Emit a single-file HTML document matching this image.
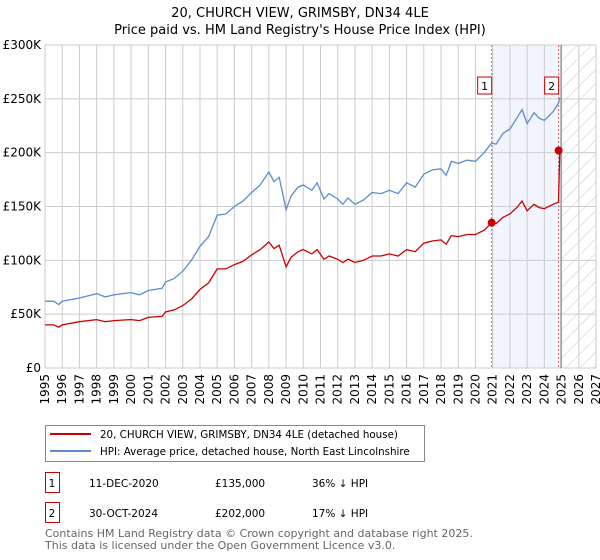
<!DOCTYPE html>
<html><head><meta charset="utf-8"><style>
body{margin:0;background:#fff;font-family:"DejaVu Sans","Liberation Sans",sans-serif;}
#wrap{position:relative;width:600px;height:560px;overflow:hidden}
</style></head><body>
<div id="wrap">
<svg id="chart" width="600" height="560" style="position:absolute;left:0;top:0"></svg>
</div>
<script>
const years=[1995,1995.5,1995.8,1996,1997,1998,1998.5,1999,2000,2000.5,2001,2001.8,2002,2002.5,2003,2003.5,2004,2004.5,2005,2005.5,2006,2006.5,2007,2007.5,2008,2008.3,2008.6,2009,2009.3,2009.7,2010,2010.5,2010.8,2011.2,2011.5,2012,2012.3,2012.6,2013,2013.5,2014,2014.5,2015,2015.5,2016,2016.5,2017,2017.5,2018,2018.3,2018.6,2019,2019.5,2020,2020.5,2020.94,2021.2,2021.6,2022,2022.4,2022.7,2023,2023.4,2023.7,2024,2024.5,2024.82,2024.9];
const hpi=[62,62,59,62,65,69,66,68,70,68,72,74,80,83,90,100,113,122,142,143,150,155,163,170,182,173,177,147,160,168,170,165,172,157,162,157,152,158,152,156,163,162,165,162,172,168,180,184,185,179,192,190,193,192,200,209,208,218,222,232,240,227,237,232,230,238,246,251];
const price=[40,40,38,40,43,45,43,44,45,44,47,48,52,54,58,64,73,79,92,92,96,99,105,110,117,111,114,94,103,108,110,106,110,101,104,101,98,101,98,100,104,104,106,104,110,108,116,118,119,115,123,122,124,124,128,135,134,140,143,149,155,146,152,149,148,152,154,202];
const yTicks=[0,50,100,150,200,250,300];
const xTicks=[1995,1996,1997,1998,1999,2000,2001,2002,2003,2004,2005,2006,2007,2008,2009,2010,2011,2012,2013,2014,2015,2016,2017,2018,2019,2020,2021,2022,2023,2024,2025,2026,2027];
const sales=[{n:"1",t:2020.94,v:135,d:"11-DEC-2020",p:"£135,000",h:"36% ↓ HPI"},{n:"2",t:2024.83,v:202,d:"30-OCT-2024",p:"£202,000",h:"17% ↓ HPI"}];

const NS="http://www.w3.org/2000/svg";
const svg=document.getElementById('chart');
const X0=45,X1=596,Y0=368,Y1=45;
const xs=t=>X0+(t-1995)/(2027-1995)*(X1-X0);
const ys=v=>Y0-v/300*(Y0-Y1);
function mk(tag,attrs,parent){const e=document.createElementNS(NS,tag);for(const k in attrs)e.setAttribute(k,attrs[k]);(parent||svg).appendChild(e);return e;}

const defs=mk('defs',{});
const pat=mk('pattern',{id:'hatch',width:10,height:10,patternUnits:'userSpaceOnUse',patternTransform:'rotate(45)'},defs);
mk('line',{x1:0,y1:0,x2:0,y2:10,stroke:'#c8c8c8','stroke-width':1},pat);

const shade=mk('rect',{x:xs(sales[0].t),y:Y1,width:xs(sales[1].t)-xs(sales[0].t),height:Y0-Y1,fill:'#f2f5fd'});


const hat=mk('rect',{x:xs(2025),y:Y1,width:X1-xs(2025),height:Y0-Y1,fill:'url(#hatch)'});



xTicks.forEach(t=>{
  const l=mk('line',{x1:xs(t),x2:xs(t),y1:Y1,y2:Y0,stroke:'#cccccc','stroke-width':1});
  
  
  const tx=mk('text',{x:0,y:0,'font-size':12,'text-anchor':'end',fill:'#000',transform:`translate(${xs(t)+4},${Y0+6}) rotate(-90)`});
  tx.textContent=t;
  
  
});
yTicks.forEach(v=>{
  const l=mk('line',{x1:X0,x2:X1,y1:ys(v),y2:ys(v),stroke:'#cccccc','stroke-width':1});
  
  
  const tx=mk('text',{x:X0-4,y:ys(v)+4,'font-size':12,'text-anchor':'end',fill:'#000'});
  tx.textContent=v===0?'£0':'£'+v+'K';
  
  
});
const nowLine=mk('line',{x1:xs(2024.97),x2:xs(2024.97),y1:Y1,y2:Y0,stroke:'#888','stroke-width':1.2});



sales.forEach(s=>{
  const l=mk('line',{x1:xs(s.t),x2:xs(s.t),y1:Y1,y2:Y0,stroke:'#e06060','stroke-width':1,'stroke-dasharray':'2,2'});
  
  
  const r=mk('rect',{x:xs(s.t)-14,y:77,width:14,height:17,fill:'#fff',stroke:'#cc0000','stroke-width':1});
  
  
  const tx=mk('text',{x:xs(s.t)-7,y:90,'font-size':11,'text-anchor':'middle',fill:'#000'});
  tx.textContent=s.n;
  
  
});

const hp=mk('path',{d:years.map((t,i)=>(i?'L':'M')+xs(t).toFixed(1)+','+ys(hpi[i]).toFixed(1)).join(''),fill:'none',stroke:'#5b8bd0','stroke-width':1.3});


const pp=mk('path',{d:years.map((t,i)=>(i?'L':'M')+xs(t).toFixed(1)+','+ys(price[i]).toFixed(1)).join(''),fill:'none',stroke:'#cc0000','stroke-width':1.3});


sales.forEach(s=>{
  const c=mk('circle',{cx:xs(s.t),cy:ys(s.v),r:4,fill:'#cc0000'});
  
  
});

const t1=mk('text',{x:300,y:17,'font-size':13,'text-anchor':'middle'});t1.textContent='20, CHURCH VIEW, GRIMSBY, DN34 4LE';


const t2=mk('text',{x:300,y:34,'font-size':13,'text-anchor':'middle'});t2.textContent="Price paid vs. HM Land Registry's House Price Index (HPI)";



const lg=mk('rect',{x:45.5,y:425.5,width:379,height:36,fill:'#fff',stroke:'#888'});


const l1=mk('line',{x1:50,x2:91,y1:434,y2:434,stroke:'#cc0000','stroke-width':2});


const lt1=mk('text',{x:100,y:438,'font-size':10.3});lt1.textContent='20, CHURCH VIEW, GRIMSBY, DN34 4LE (detached house)';


const l2=mk('line',{x1:50,x2:91,y1:451,y2:451,stroke:'#5b8bd0','stroke-width':2});


const lt2=mk('text',{x:100,y:455,'font-size':10.3});lt2.textContent='HPI: Average price, detached house, North East Lincolnshire';



sales.forEach((s,i)=>{
  const y=483+i*30;
  const b=mk('rect',{x:45.5,y:y-10.5,width:14,height:20,fill:'#fff',stroke:'#cc0000'});
  
  
  const cells=[[52,s.n,'middle'],[89,s.d,'start'],[215,s.p,'start'],[312,s.h,'start']];
  cells.forEach(c=>{
    const tx=mk('text',{x:c[0],y:y+4,'font-size':10.5,'text-anchor':c[2]});tx.textContent=c[1];
    
    
  });
});
const f1=mk('text',{x:45,y:537,'font-size':11,fill:'#666'});f1.textContent='Contains HM Land Registry data © Crown copyright and database right 2025.';


const f2=mk('text',{x:45,y:549,'font-size':11,fill:'#666'});f2.textContent='This data is licensed under the Open Government Licence v3.0.';


</script>
</body></html>
